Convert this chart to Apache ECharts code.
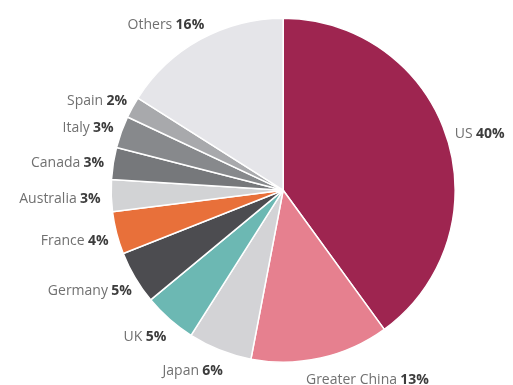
<!DOCTYPE html>
<html>
<head>
<meta charset="utf-8">
<script src="https://cdn.jsdelivr.net/npm/echarts@6/dist/echarts.min.js"></script>
<style>
  html, body { margin: 0; padding: 0; background: #ffffff; }
  #chart { width: 513px; height: 385px; }
</style>
</head>
<body>
<div id="chart"></div>
<script>
// Market share by region (percent), clockwise from 12 o'clock
const regions = ['US', 'Greater China', 'Japan', 'UK', 'Germany', 'France', 'Australia', 'Canada', 'Italy', 'Spain', 'Others'];
const shares = [40, 13, 6, 5, 5, 4, 3, 3, 3, 2, 16];
const sliceColors = ['#9e2550', '#e6808f', '#d3d3d6', '#6cb8b3', '#4c4c50', '#e8703a', '#d2d3d5', '#76787b', '#87898c', '#a8a9ac', '#e5e5e9'];

const CENTER = ['55.2%', '49.4%'];

const chart = echarts.init(document.getElementById('chart'), null, { renderer: 'canvas' });

// Spread labels a little further from the pie vertically and pull the ones
// near the top/bottom back toward the vertical axis so they sit under/over their slice.
function spreadLabel(params) {
  const cx = parseFloat(CENTER[0]) / 100 * chart.getWidth();
  const cy = parseFloat(CENTER[1]) / 100 * chart.getHeight();
  const r = params.labelRect;
  const mx = r.x + r.width / 2;
  const my = r.y + r.height / 2;
  const ang = Math.atan2(mx - cx, -(my - cy));
  const pull = -Math.sign(Math.sin(ang)) * 0.4 * Math.abs(Math.cos(ang)) * r.width / 2;
  return { dx: pull, dy: 3 + 0.075 * (my - cy) };
}

chart.setOption({
  animation: false,
  backgroundColor: '#ffffff',
  series: [{
    type: 'pie',
    center: CENTER,
    radius: 172,
    startAngle: 90,
    clockwise: true,
    avoidLabelOverlap: true,
    itemStyle: { borderColor: '#ffffff', borderWidth: 1.5 },
    label: {
      show: true,
      position: 'outside',
      overflow: 'none',
      formatter: p => '{n|' + p.name + '} {v|' + p.value + '%}',
      rich: {
        n: { fontFamily: 'Open Sans', fontSize: 14, color: '#707070' },
        v: { fontFamily: 'Open Sans', fontSize: 14, fontWeight: 'bold', color: '#3c3c3c' }
      }
    },
    labelLine: { show: false, length: 6, length2: 0 },
    labelLayout: spreadLabel,
    data: regions.map((name, i) => ({
      name: name,
      value: shares[i],
      itemStyle: { color: sliceColors[i] }
    }))
  }]
});
</script>
</body>
</html>
